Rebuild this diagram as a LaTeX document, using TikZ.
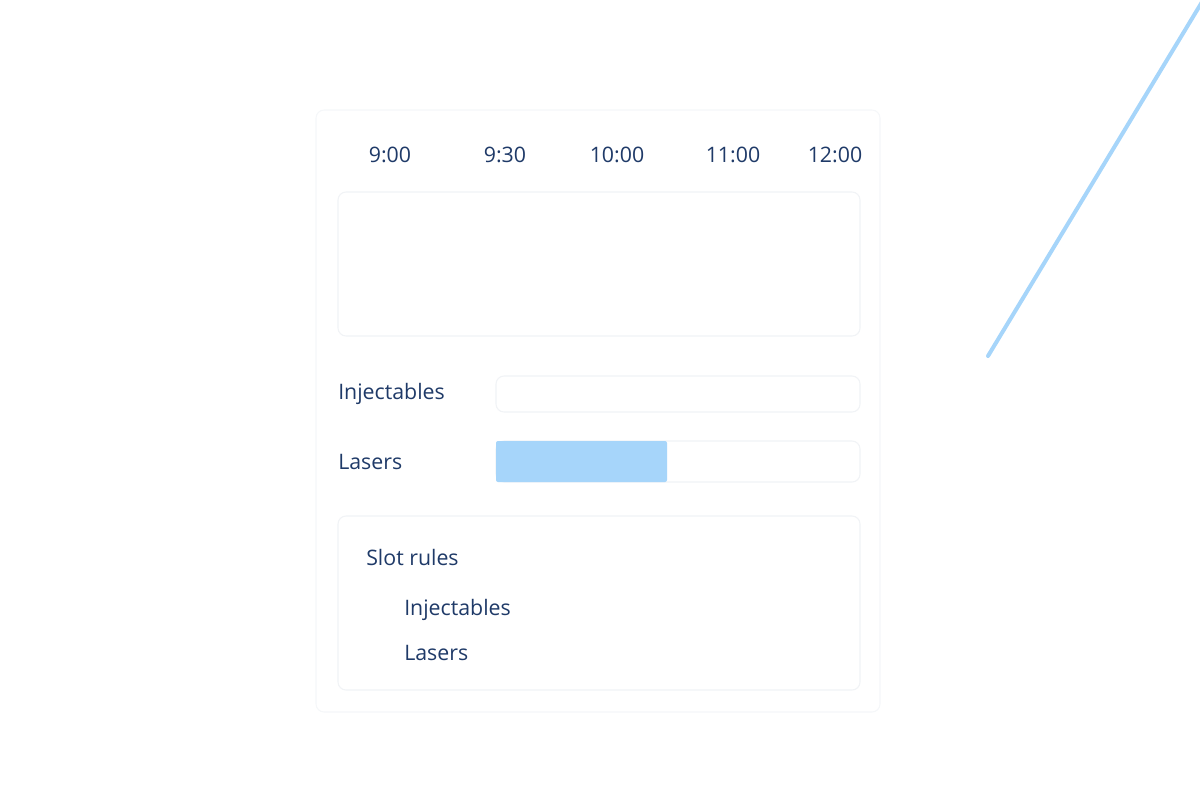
\documentclass[tikz,border=0pt]{standalone}
\usepackage{fontspec}
\setmainfont{Open Sans}
\definecolor{ink}{HTML}{1F3A68}
\definecolor{barblue}{HTML}{A6D5FA}
\definecolor{faint}{HTML}{F1F3F6}
\begin{document}
\begin{tikzpicture}[x=0.75pt,y=-0.75pt,
  lbl/.style={text=ink,font=\fontsize{16}{19}\selectfont,inner sep=0pt},
  panel/.style={draw=faint,line width=0.8pt,rounded corners=6pt,fill=white}]
\useasboundingbox (0,0) rectangle (1200,800);
\draw[panel,draw=faint!70] (316,110) rectangle (880,712);
\foreach \t/\x in {9:00/390,9:30/505,10:00/617,11:00/733,12:00/835}
  \node[lbl,anchor=center] (t\x) at (\x,155) {\t};
\draw[panel] (338,192) rectangle (860,336);
\node[lbl,anchor=west] (inj) at (338,394) {Injectables};
\node[lbl,anchor=west] (las) at (338,462) {Lasers};
\draw[panel] (496,376) rectangle (860,412);
\draw[panel] (496,441) rectangle (860,482);
\fill[barblue,rounded corners=1.5pt] (496,441) rectangle (667,482);
\draw[panel] (338,516) rectangle (860,690);
\node[lbl,anchor=west] (sr) at (366,557) {Slot rules};
\node[lbl,anchor=west] (r1) at (404,610) {Injectables};
\node[lbl,anchor=west] (r2) at (404,653) {Lasers};
\coordinate (la) at (988,356);
\coordinate (lb) at (1202,2);
\draw[barblue,line width=3pt,line cap=round] (la) -- (lb);
\end{tikzpicture}
\end{document}
